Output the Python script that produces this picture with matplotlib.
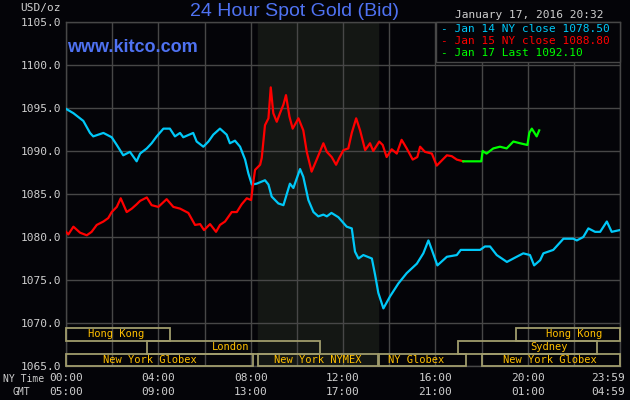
import matplotlib
matplotlib.use('Agg')
import matplotlib.pyplot as plt
from matplotlib.patches import Rectangle
from matplotlib import transforms

# ---- data (hours of NY time, price in USD/oz) ----
cyan_t = [0, 0.32, 0.75, 1.04, 1.18, 1.62, 1.98, 2.2, 2.48, 2.77, 3.06, 3.21, 3.5, 3.71, 3.93,
          4.22, 4.5, 4.72, 4.94, 5.08, 5.51, 5.66, 5.95, 6.17, 6.38, 6.67, 6.96, 7.1, 7.32, 7.54,
          7.76, 7.9, 8.05, 8.26, 8.62, 8.77, 8.91, 9.2, 9.42, 9.7, 9.85, 10.14, 10.28, 10.5, 10.72,
          10.93, 11.15, 11.3, 11.5, 11.8, 12.16, 12.38, 12.52, 12.67, 12.88, 13.25, 13.39, 13.53,
          13.75, 14.04, 14.4, 14.76, 15.2, 15.48, 15.7, 15.85, 16.09, 16.5, 16.93, 17.1, 17.94,
          18.15, 18.37, 18.66, 19.1, 19.38, 19.81, 20.1, 20.28, 20.54, 20.68, 21.11, 21.55, 21.98,
          22.13, 22.41, 22.63, 22.92, 23.14, 23.43, 23.64, 23.98]
cyan_v = [1094.9, 1094.4, 1093.5, 1092.1, 1091.7, 1092.1, 1091.6, 1090.7, 1089.5, 1089.9, 1088.8,
          1089.7, 1090.3, 1090.9, 1091.7, 1092.6, 1092.6, 1091.7, 1092.1, 1091.6, 1092.1, 1091.1,
          1090.5, 1091.1, 1091.9, 1092.6, 1091.9, 1090.9, 1091.2, 1090.5, 1089.0, 1087.4, 1086.1,
          1086.2, 1086.6, 1086.1, 1084.7, 1083.9, 1083.7, 1086.2, 1085.7, 1087.9, 1087.0, 1084.3,
          1082.9, 1082.4, 1082.6, 1082.4, 1082.8, 1082.3, 1081.2, 1081.0, 1078.3, 1077.5, 1077.9,
          1077.5, 1075.6, 1073.5, 1071.7, 1073.1, 1074.6, 1075.8, 1076.9, 1078.1, 1079.6, 1078.5,
          1076.7, 1077.7, 1077.9, 1078.5, 1078.5, 1078.9, 1078.9, 1077.9, 1077.1, 1077.5, 1078.1,
          1077.9, 1076.7, 1077.3, 1078.1, 1078.5, 1079.8, 1079.8, 1079.6, 1080.0, 1081.0, 1080.6,
          1080.6, 1081.8, 1080.6, 1080.8]

red_t = [0, 0.1, 0.32, 0.61, 0.9, 1.11, 1.33, 1.62, 1.83, 1.98, 2.2, 2.37, 2.63, 2.85, 3.06, 3.21,
         3.5, 3.71, 4.0, 4.36, 4.65, 4.94, 5.3, 5.59, 5.81, 5.98, 6.24, 6.5, 6.67, 6.89, 7.18, 7.4,
         7.61, 7.83, 8.02, 8.09, 8.19, 8.41, 8.48, 8.62, 8.77, 8.87, 8.98, 9.13, 9.27, 9.42, 9.53,
         9.68, 9.82, 10.07, 10.28, 10.43, 10.64, 10.86, 11.15, 11.3, 11.51, 11.7, 11.84, 12.02,
         12.23, 12.38, 12.57, 12.74, 12.96, 13.17, 13.31, 13.57, 13.72, 13.89, 14.11, 14.33, 14.54,
         14.76, 15.02, 15.22, 15.34, 15.55, 15.85, 16.06, 16.28, 16.5, 16.71, 16.93, 17.21]
red_v = [1080.6, 1080.3, 1081.2, 1080.5, 1080.2, 1080.6, 1081.4, 1081.8, 1082.2, 1082.9, 1083.5,
         1084.5, 1082.9, 1083.3, 1083.8, 1084.2, 1084.6, 1083.7, 1083.5, 1084.4, 1083.5, 1083.3,
         1082.8, 1081.4, 1081.5, 1080.8, 1081.5, 1080.6, 1081.4, 1081.8, 1082.9, 1082.9, 1083.8,
         1084.5, 1084.3, 1085.9, 1087.8, 1088.4, 1089.2, 1093.0, 1093.8, 1097.4, 1094.4, 1093.4,
         1094.4, 1095.4, 1096.5, 1094.0, 1092.6, 1093.8, 1092.4, 1089.9, 1087.6, 1089.0, 1090.9,
         1089.9, 1089.3, 1088.4, 1089.2, 1090.1, 1090.3, 1092.1, 1093.8, 1092.4, 1090.1, 1090.9,
         1090.0, 1091.1, 1090.7, 1089.3, 1090.2, 1089.7, 1091.3, 1090.3, 1089.0, 1089.3, 1090.5,
         1089.9, 1089.7, 1088.3, 1088.9, 1089.5, 1089.4, 1089.0, 1088.8]

green_t = [17.21, 17.99, 18.05, 18.22, 18.51, 18.8, 19.09, 19.38, 19.67, 19.99, 20.07, 20.18, 20.39, 20.5]
green_v = [1088.8, 1088.8, 1090.0, 1089.7, 1090.3, 1090.5, 1090.3, 1091.1, 1090.9, 1090.7, 1092.1,
           1092.6, 1091.7, 1092.4]

legend_labels = ['- Jan 14 NY close 1078.50', '- Jan 15 NY close 1088.80', '- Jan 17 Last 1092.10']

# market sessions: (row, start hour, end hour, label, label centre hour)
sessions = [
    (0, 0.0, 4.5, 'Hong Kong', 2.16),
    (0, 19.5, 24.0, 'Hong Kong', 22.0),
    (1, 3.5, 11.0, 'London', 7.15),
    (1, 17.0, 23.0, 'Sydney', 20.93),
    (2, 0.0, 8.08, 'New York Globex', 3.64),
    (2, 8.33, 13.5, 'New York NYMEX', 10.9),
    (2, 13.55, 17.35, 'NY Globex', 15.18),
    (2, 18.03, 24.0, 'New York Globex', 20.96),
]
nymex_start, nymex_end = 8 + 20 / 60, 13.5

ny_hours = [0, 4, 8, 12, 16, 20]
ny_labels = ['00:00', '04:00', '08:00', '12:00', '16:00', '20:00', '23:59']
gmt_labels = ['05:00', '09:00', '13:00', '17:00', '21:00', '01:00', '04:59']

# ---- style ----
BG = '#040408'
SHADE = '#141714'
GRID = '#474747'
BOX = '#a09c6c'
AMBER = '#ffbf00'
TXT = '#cfcfcf'
BLUE = '#4f72f2'
MONO = 'DejaVu Sans Mono'
SANS = 'Liberation Sans'
colors = ['#00c8f8', '#ff0000', '#00ff00']

W, H = 630, 400


def fx(x):
    return x / W


def fy(y):
    return 1 - y / H


fig = plt.figure(figsize=(6.3, 4.0), dpi=100, facecolor=BG)
ax = fig.add_axes([fx(66), fy(366), 554 / W, 344 / H], facecolor=BG)
ax.set_xlim(0, 24)
ax.set_ylim(1065, 1105)

ax.axvspan(nymex_start, nymex_end, color=SHADE, zorder=0)

ax.set_xticks(range(0, 25, 2))
ax.set_yticks(range(1065, 1106, 5))
ax.grid(True, color=GRID, linewidth=1.0, zorder=1)
ax.set_axisbelow(True)
ax.tick_params(length=0, labelbottom=False)
ax.set_yticklabels(['%.1f' % v for v in range(1065, 1106, 5)], fontfamily=MONO,
                   fontsize=8, color=TXT)
ax.tick_params(axis='y', pad=3.5)
for s in ax.spines.values():
    s.set_color(GRID)
    s.set_linewidth(1.0)

ax.plot(cyan_t, cyan_v, color=colors[0], lw=1.6, zorder=3)
ax.plot(red_t, red_v, color=colors[1], lw=1.6, zorder=3)
ax.plot(green_t, green_v, color=colors[2], lw=1.6, zorder=3)

# session rows drawn over the bottom band of the plot
row_edges = [1069.42, 1067.91, 1066.40, 1065.0]
for row, t0, t1, name, tc in sessions:
    top, bot = row_edges[row], row_edges[row + 1]
    ax.add_patch(Rectangle((t0, bot), t1 - t0, top - bot, fill=False,
                           edgecolor=BOX, lw=1.3, zorder=4, clip_on=False))
    ax.text(tc, (top + bot) / 2, name, ha='center', va='center', color=AMBER,
            fontsize=7.5, fontfamily=MONO, zorder=5)

# legend box
fig.patches.append(Rectangle((fx(436), fy(62)), 184 / W, 40 / H, transform=fig.transFigure,
                             facecolor=BG, edgecolor=GRID, lw=1.0, zorder=5))
for i, (lab, c) in enumerate(zip(legend_labels, colors)):
    fig.text(fx(441), fy(29 + 12.2 * i), lab, ha='left', va='center', color=c,
             fontsize=8, fontfamily=MONO, zorder=6)

# header texts
fig.text(fx(294), fy(12), '24 Hour Spot Gold (Bid)', ha='center', va='center',
         color=BLUE, fontsize=14, fontfamily=SANS)
fig.text(fx(67), fy(48), 'www.kitco.com', ha='left', va='center', color=BLUE,
         fontsize=13, fontweight='bold', fontfamily=SANS)
fig.text(fx(20), fy(8.5), 'USD/oz', ha='left', va='center', color=TXT,
         fontsize=8, fontfamily=MONO)
fig.text(fx(455), fy(14.5), 'January 17, 2016 20:32', ha='left', va='center', color=TXT,
         fontsize=8, fontfamily=MONO)

# time axis: NY time and GMT rows
fig.text(fx(3), fy(379), 'NY Time', ha='left', va='center', color=TXT, fontsize=7, fontfamily=MONO)
fig.text(fx(21), fy(392), 'GMT', ha='center', va='center', color=TXT, fontsize=7, fontfamily=MONO)
blend = transforms.blended_transform_factory(ax.transData, fig.transFigure)
for h, l1, l2 in zip(ny_hours, ny_labels, gmt_labels):
    fig.text(h, fy(378), l1, ha='center', va='center', color=TXT, fontsize=8,
             fontfamily=MONO, transform=blend)
    fig.text(h, fy(392), l2, ha='center', va='center', color=TXT, fontsize=8,
             fontfamily=MONO, transform=blend)
end_tr = transforms.offset_copy(blend, fig=fig, x=5, y=0, units='dots')
fig.text(24, fy(378), ny_labels[-1], ha='right', va='center', color=TXT, fontsize=8,
         fontfamily=MONO, transform=end_tr)
fig.text(24, fy(392), gmt_labels[-1], ha='right', va='center', color=TXT, fontsize=8,
         fontfamily=MONO, transform=end_tr)

fig.savefig('out.png', dpi=100, facecolor=BG)
